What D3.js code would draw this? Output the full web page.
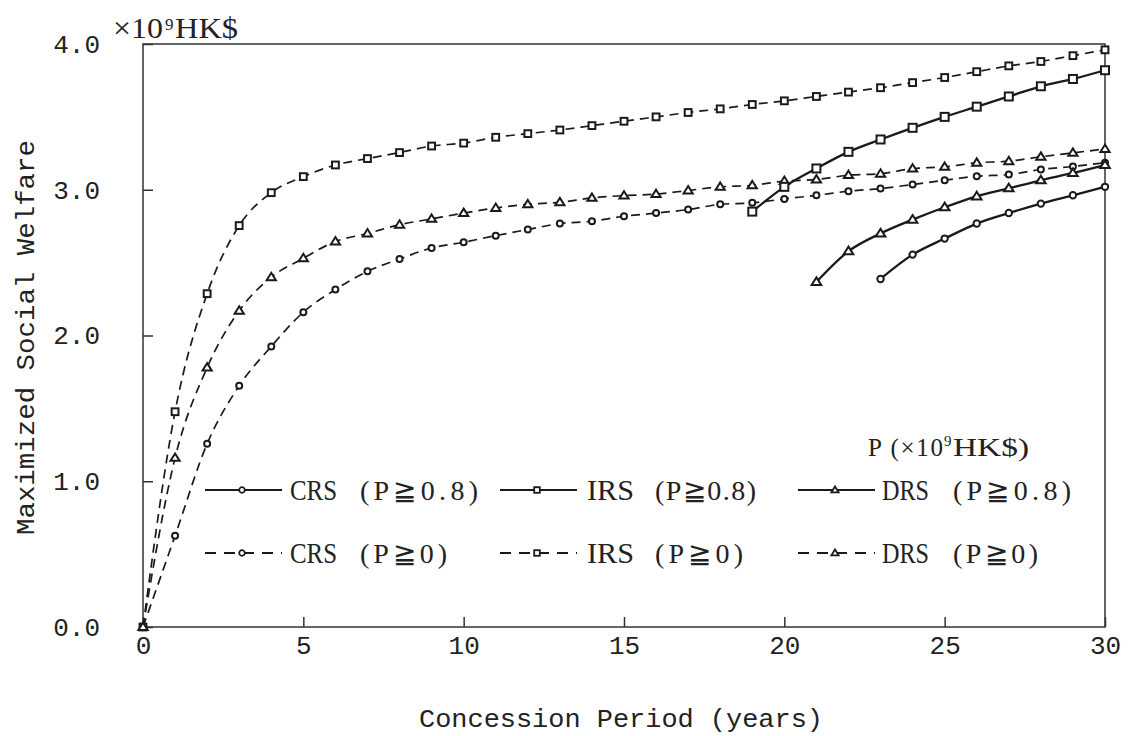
<!DOCTYPE html>
<html>
<head>
<meta charset="utf-8">
<script src="https://cdn.jsdelivr.net/npm/d3@7"></script>
<style>
  body { margin: 0; background: #fff; }
  text { fill: #222; }
</style>
</head>
<body>
<svg id="chart" width="1129" height="736"></svg>
<script>
// Concession period, years
const periodYears = d3.range(0, 31);

// Maximized social welfare (x10^9 HK$) with price floor P >= 0, every year 0..30
const crsFree = [0, 0.626, 1.257, 1.655, 1.925, 2.16, 2.315, 2.44, 2.525, 2.60, 2.64,
  2.685, 2.727, 2.768, 2.784, 2.818, 2.84, 2.864, 2.90, 2.91, 2.937,
  2.962, 2.99, 3.008, 3.036, 3.065, 3.093, 3.104, 3.139, 3.16, 3.185];
const irsFree = [0, 1.477, 2.287, 2.754, 2.98, 3.09, 3.17, 3.214, 3.255, 3.30, 3.32,
  3.36, 3.385, 3.41, 3.44, 3.47, 3.50, 3.53, 3.555, 3.585, 3.61,
  3.64, 3.67, 3.70, 3.735, 3.77, 3.81, 3.85, 3.88, 3.92, 3.96];
const drsFree = [0, 1.16, 1.78, 2.17, 2.40, 2.53, 2.645, 2.70, 2.76, 2.80, 2.84,
  2.875, 2.90, 2.914, 2.944, 2.96, 2.97, 2.995, 3.02, 3.03, 3.06,
  3.07, 3.10, 3.11, 3.145, 3.157, 3.185, 3.196, 3.226, 3.253, 3.28];

// With price floor P >= 0.8 the feasible periods start later
const crsFloorYears = d3.range(23, 31);
const crsFloor = [2.388, 2.555, 2.665, 2.768, 2.84, 2.905, 2.962, 3.02];
const irsFloorYears = d3.range(19, 31);
const irsFloor = [2.85, 3.02, 3.146, 3.26, 3.345, 3.425, 3.50, 3.57, 3.64, 3.71, 3.76, 3.82];
const drsFloorYears = d3.range(21, 31);
const drsFloor = [2.367, 2.578, 2.70, 2.795, 2.88, 2.955, 3.01, 3.065, 3.115, 3.17];

// Axis ticks
const xTicks = [0, 5, 10, 15, 20, 25, 30];
const yTicks = [0, 1, 2, 3, 4];

const series = [
  { key: "CRS", years: periodYears,   values: crsFree,  shape: "circle",   dashed: true,  size: 3.0 },
  { key: "IRS", years: periodYears,   values: irsFree,  shape: "square",   dashed: true,  size: 3.4 },
  { key: "DRS", years: periodYears,   values: drsFree,  shape: "triangle", dashed: true,  size: 4.6 },
  { key: "CRS", years: crsFloorYears, values: crsFloor, shape: "circle",   dashed: false, size: 3.2 },
  { key: "IRS", years: irsFloorYears, values: irsFloor, shape: "square",   dashed: false, size: 4.0 },
  { key: "DRS", years: drsFloorYears, values: drsFloor, shape: "triangle", dashed: false, size: 4.8 }
];

const svg = d3.select("#chart");
const plotLeft = 143, plotRight = 1105, plotTop = 44, plotBottom = 627;

const x = d3.scaleLinear().domain([0, 30]).range([plotLeft, plotRight]);
const y = d3.scaleLinear().domain([0, 4]).range([plotBottom, plotTop]);

const monoFont = "'Liberation Mono', 'DejaVu Sans Mono', monospace";
const serifFont = "'Liberation Serif', 'DejaVu Serif', serif";
const ink = "#1a1a1a";

// Frame
svg.append("rect")
  .attr("x", plotLeft).attr("y", plotTop)
  .attr("width", plotRight - plotLeft).attr("height", plotBottom - plotTop)
  .attr("fill", "none").attr("stroke", "#333").attr("stroke-width", 1.5);

// Axes with inward ticks
const xAxis = svg.append("g")
  .attr("transform", `translate(0,${plotBottom})`)
  .call(d3.axisBottom(x).tickValues(xTicks).tickFormat(d3.format("d"))
    .tickSize(-10).tickPadding(9));
const yAxis = svg.append("g")
  .attr("transform", `translate(${plotLeft},0)`)
  .call(d3.axisLeft(y).tickValues(yTicks).tickFormat(d3.format(".1f"))
    .tickSize(-10).tickPadding(43));

[xAxis, yAxis].forEach(a => {
  a.select(".domain").remove();
  a.selectAll(".tick line").attr("stroke", "#333").attr("stroke-width", 1.5);
  a.selectAll(".tick text")
    .attr("font-family", monoFont).attr("font-size", 26).attr("fill", "#333");
});

// Axis titles
svg.append("text")
  .attr("x", 419).attr("y", 727)
  .attr("font-family", monoFont).attr("font-size", 26).attr("fill", "#333")
  .attr("textLength", 404).attr("lengthAdjust", "spacingAndGlyphs")
  .text("Concession Period (years)");

svg.append("text")
  .attr("transform", "translate(34,535) rotate(-90)")
  .attr("font-family", monoFont).attr("font-size", 26).attr("fill", "#333")
  .attr("textLength", 395).attr("lengthAdjust", "spacingAndGlyphs")
  .text("Maximized Social Welfare");

// Unit label above the y axis
svg.append("text").attr("x", 113).attr("y", 38)
  .attr("font-family", serifFont).attr("font-size", 29)
  .attr("textLength", 50).attr("lengthAdjust", "spacingAndGlyphs")
  .text("\u00d710");
svg.append("text").attr("x", 165).attr("y", 30)
  .attr("font-family", serifFont).attr("font-size", 17).text("9");
svg.append("text").attr("x", 175).attr("y", 38)
  .attr("font-family", serifFont).attr("font-size", 29)
  .attr("textLength", 63).attr("lengthAdjust", "spacingAndGlyphs")
  .text("HK$");

// Marker drawing
function marker(sel, shape, r) {
  if (shape === "circle") {
    return sel.append("circle").attr("r", r);
  }
  if (shape === "square") {
    return sel.append("rect").attr("x", -r).attr("y", -r).attr("width", 2 * r).attr("height", 2 * r);
  }
  const h = r * 1.6;
  return sel.append("path")
    .attr("d", `M0,${-h * 0.6}L${r},${h * 0.4}L${-r},${h * 0.4}Z`);
}

const line = d3.line()
  .x(d => x(d[0])).y(d => y(d[1]))
  .curve(d3.curveMonotoneX);

const plot = svg.append("g");
series.forEach(s => {
  const pts = s.years.map((yr, i) => [yr, s.values[i]]);
  plot.append("path")
    .datum(pts)
    .attr("d", line)
    .attr("fill", "none")
    .attr("stroke", ink)
    .attr("stroke-width", s.dashed ? 1.7 : 2.3)
    .attr("stroke-dasharray", s.dashed ? "9,6" : null);
  pts.forEach(p => {
    const g = plot.append("g").attr("transform", `translate(${x(p[0])},${y(p[1])})`);
    marker(g, s.shape, s.size)
      .attr("fill", "#fff").attr("stroke", ink).attr("stroke-width", 2);
  });
});

// Legend
const legendRows = [
  { dashed: false, yPos: 490, items: [
    { key: "CRS", floor: "(P\u22670.8)", shape: "circle",   lx: 205, tx: 290, fx: 360, fw: 118 },
    { key: "IRS", floor: "(P\u22670.8)", shape: "square",   lx: 500, tx: 587, fx: 655, fw: 101 },
    { key: "DRS", floor: "(P\u22670.8)", shape: "triangle", lx: 798, tx: 882, fx: 953, fw: 118 } ] },
  { dashed: true, yPos: 553, items: [
    { key: "CRS", floor: "(P\u22670)", shape: "circle",   lx: 205, tx: 290, fx: 360, fw: 87 },
    { key: "IRS", floor: "(P\u22670)", shape: "square",   lx: 500, tx: 587, fx: 655, fw: 88 },
    { key: "DRS", floor: "(P\u22670)", shape: "triangle", lx: 798, tx: 882, fx: 953, fw: 85 } ] }
];

const legend = svg.append("g");
legendRows.forEach(row => {
  row.items.forEach(it => {
    legend.append("line")
      .attr("x1", it.lx).attr("x2", it.lx + 77)
      .attr("y1", row.yPos).attr("y2", row.yPos)
      .attr("stroke", ink).attr("stroke-width", row.dashed ? 1.8 : 2.2)
      .attr("stroke-dasharray", row.dashed ? "11,8" : null);
    const g = legend.append("g").attr("transform", `translate(${it.lx + 37},${row.yPos})`);
    marker(g, it.shape, it.shape === "triangle" ? 3.6 : 2.8)
      .attr("fill", "#fff").attr("stroke", ink).attr("stroke-width", 1.8);
    legend.append("text")
      .attr("x", it.tx).attr("y", row.yPos + 10)
      .attr("font-family", serifFont).attr("font-size", 30)
      .attr("textLength", 47).attr("lengthAdjust", "spacingAndGlyphs")
      .text(it.key);
    legend.append("text")
      .attr("x", it.fx).attr("y", row.yPos + 10)
      .attr("font-family", serifFont).attr("font-size", 28)
      .attr("textLength", it.fw).attr("lengthAdjust", "spacing")
      .text(it.floor);
  });
});

// Legend heading for the price floor unit
legend.append("text").attr("x", 868).attr("y", 456)
  .attr("font-family", serifFont).attr("font-size", 25)
  .attr("textLength", 75).attr("lengthAdjust", "spacing")
  .text("P (\u00d710");
legend.append("text").attr("x", 944).attr("y", 446)
  .attr("font-family", serifFont).attr("font-size", 15).text("9");
legend.append("text").attr("x", 953).attr("y", 456)
  .attr("font-family", serifFont).attr("font-size", 26)
  .attr("textLength", 76).attr("lengthAdjust", "spacingAndGlyphs")
  .text("HK$)");
</script>
</body>
</html>
